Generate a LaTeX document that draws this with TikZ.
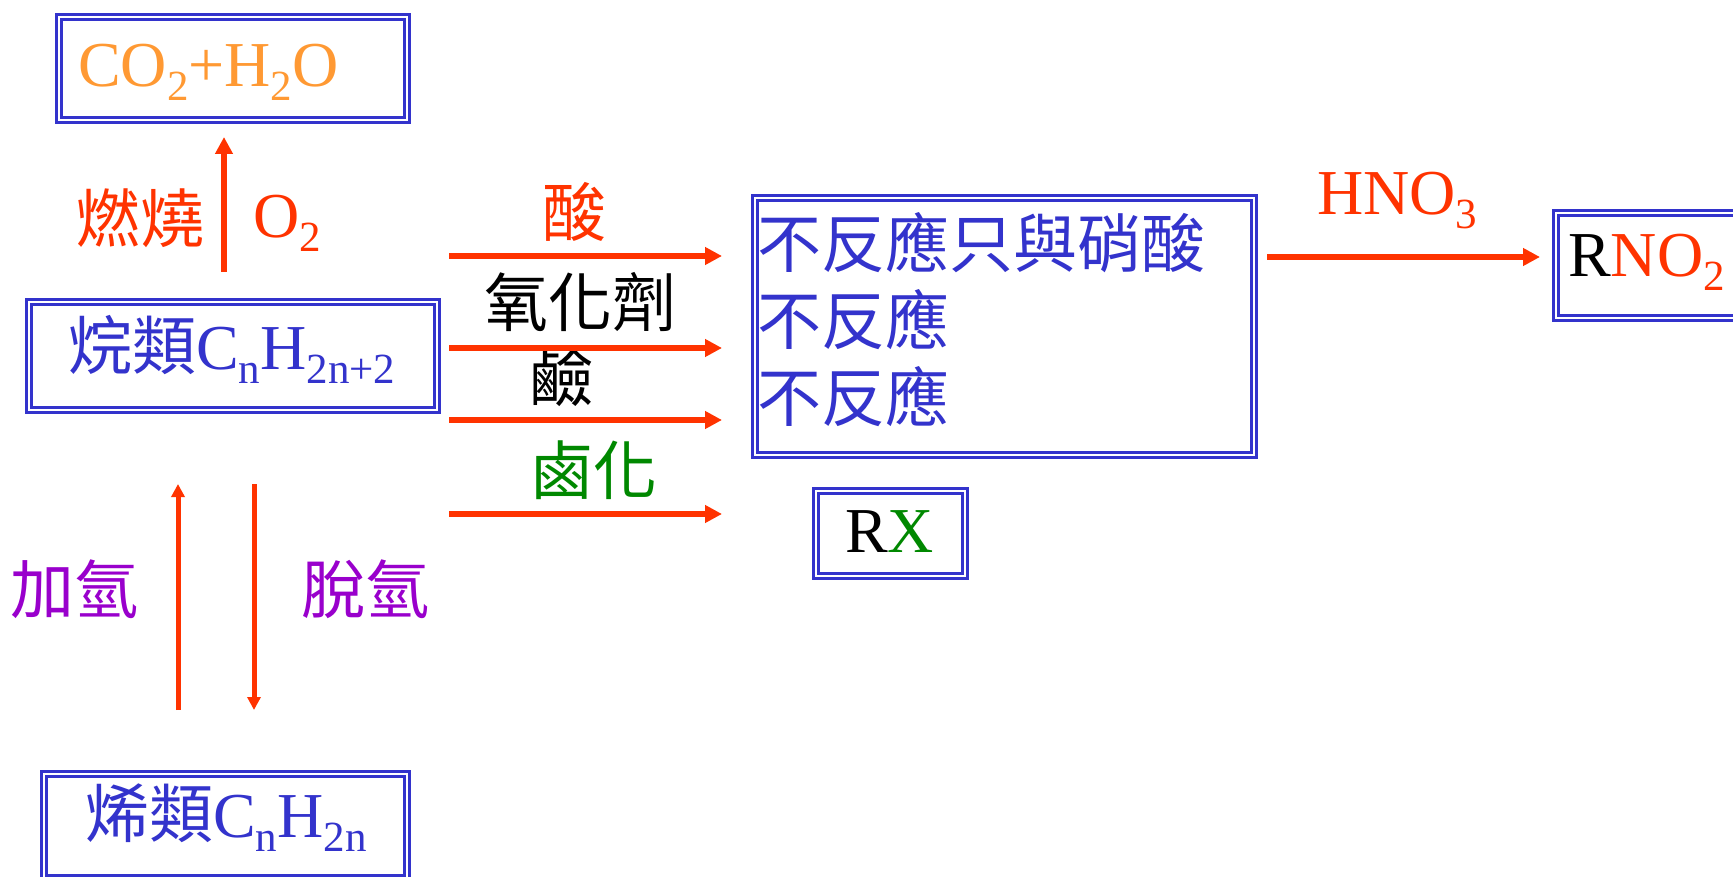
\documentclass[tikz,border=0pt]{standalone}
\usepackage{fontspec}
\setmainfont{Liberation Serif}
\newfontfamily\cjk{Noto Sans CJK TC}
\usetikzlibrary{arrows.meta}
\definecolor{boxblue}{HTML}{3333CC}
\definecolor{rxred}{HTML}{FF3300}
\definecolor{prodorange}{HTML}{FF9933}
\definecolor{hpurple}{HTML}{9900CC}
\definecolor{halgreen}{HTML}{008800}
\newcommand\sbs[1]{\raisebox{-14pt}{\fontsize{43}{43}\selectfont #1}}
\tikzset{
  dbox/.style={draw=boxblue, line width=3pt, double=white, double distance=2pt,
    rectangle, inner sep=0pt, anchor=north west},
  txt/.style={inner sep=0pt, font=\fontsize{64}{70}\selectfont},
  arr/.style={draw=rxred, line width=6pt, -{Triangle[length=17pt,width=17pt]}},
  varr/.style={draw=rxred, line width=5pt, -{Triangle[length=13pt,width=13pt]}}
}
\begin{document}
\begin{tikzpicture}[x=1pt,y=-1pt]
\useasboundingbox (0,0) rectangle (1733,877);
\clip (0,0) rectangle (1733,877);
% boxes
\node[dbox, minimum width=348pt, minimum height=103pt] (co2box) at (57,16) {};
\node[dbox, minimum width=408pt, minimum height=107pt] (alkbox) at (27,301) {};
\node[dbox, minimum width=363pt, minimum height=104pt] (alebox) at (42,772) {};
\node[dbox, minimum width=499pt, minimum height=256pt] (bigbox) at (753,197) {};
\node[dbox, minimum width=149pt, minimum height=85pt] (rxbox) at (814,489) {};
\node[dbox, minimum width=206pt, minimum height=105pt] (rnobox) at (1554,212) {};
% box texts
\node[txt, anchor=base west, text=prodorange] (co2txt) at (78,87) {CO\sbs{2}+H\sbs{2}O};
\node[txt, anchor=base west, text=boxblue] (alktxt) at (68,370) {{\cjk 烷類}C\sbs{n}H\sbs{2n+2}};
\node[txt, anchor=base west, text=boxblue] (aletxt) at (85,837) {{\cjk 烯類}C\sbs{n}H\sbs{2n}};
\node[txt, anchor=west, text=boxblue] (row1) at (757,243) {\cjk 不反應只與硝酸};
\node[txt, anchor=west, text=boxblue] (row2) at (757,320) {\cjk 不反應};
\node[txt, anchor=west, text=boxblue] (row3) at (757,397) {\cjk 不反應};
\node[txt, anchor=base west] (rxtxt) at (845,552) {R\textcolor{halgreen}{X}};
\node[txt, anchor=base west] (rnotxt) at (1568,277) {R\textcolor{rxred}{NO\sbs{2}}};
% labels
\node[txt, text=rxred] (burn) at (140,218) {\cjk 燃燒};
\node[txt, anchor=base west, text=rxred] (o2) at (253,238) {O\sbs{2}};
\node[txt, text=hpurple] (addh) at (74,589) {\cjk 加氫};
\node[txt, text=hpurple] (remh) at (365,589) {\cjk 脫氫};
\node[txt, text=rxred] (acid) at (574,212) {\cjk 酸};
\node[txt] (oxid) at (580,302) {\cjk 氧化劑};
\node[txt] (base) at (561,377) {\cjk 鹼};
\node[txt, text=halgreen] (halo) at (593,470) {\cjk 鹵化};
\node[txt, anchor=base west, text=rxred] (hno3) at (1317,215) {HNO\sbs{3}};
% arrow end points
\coordinate (burnS) at (224,272);
\coordinate (burnE) at (224,137);
\coordinate (a1S) at (449,256); \coordinate (a1E) at (722,256);
\coordinate (a2S) at (449,348); \coordinate (a2E) at (722,348);
\coordinate (a3S) at (449,420); \coordinate (a3E) at (722,420);
\coordinate (a4S) at (449,514); \coordinate (a4E) at (722,514);
\coordinate (nS) at (1267,257); \coordinate (nE) at (1540,257);
\coordinate (upS) at (178,710); \coordinate (upE) at (178,484);
\coordinate (dnS) at (254,484); \coordinate (dnE) at (254,710);
% arrows
\draw[arr] (burnS) -- (burnE);
\draw[arr] (a1S) -- (a1E);
\draw[arr] (a2S) -- (a2E);
\draw[arr] (a3S) -- (a3E);
\draw[arr] (a4S) -- (a4E);
\draw[arr] (nS) -- (nE);
\draw[varr] (upS) -- (upE);
\draw[varr] (dnS) -- (dnE);
\end{tikzpicture}
\end{document}
